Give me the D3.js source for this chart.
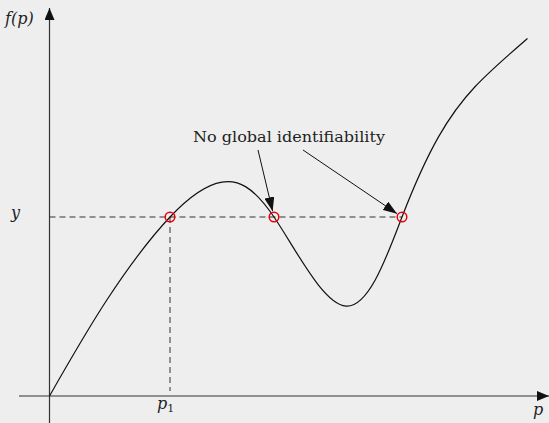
<!DOCTYPE html>
<html>
<head>
<meta charset="utf-8">
<script src="https://cdn.jsdelivr.net/npm/d3@7/dist/d3.min.js"></script>
<style>
  html, body { margin: 0; padding: 0; background: #eeeeee; }
  svg { display: block; }
</style>
</head>
<body>
<svg id="chart" width="549" height="423"></svg>
<script>
// Curve samples (p, f(p))
const pValues = [0, 1.15, 2.41, 3.45, 4.49, 5.93, 7.05, 7.78, 8.51, 9.56];
const fValues = [0, 2.15, 4.0, 4.78, 4.0, 2.01, 4.0, 5.79, 6.91, 7.99];

// Level y and the parameters where f(p) = y
const yLevel = 4;
const crossings = [2.41, 4.49, 7.05];
const annotationText = "No global identifiability";
const annotatedCrossings = [4.49, 7.05];

const FONT = "'DejaVu Serif', serif";

const svg = d3.select("#chart");
const W = 549, H = 423;

const x = d3.scaleLinear().domain([0, 10]).range([49.5, 549.5]);
const y = d3.scaleLinear().domain([0, 8]).range([396, 38]);

svg.append("rect").attr("width", W).attr("height", H).attr("fill", "#eeeeee");

const defs = svg.append("defs");
defs.append("marker")
  .attr("id", "head")
  .attr("viewBox", "0 0 14 10")
  .attr("refX", 14).attr("refY", 5)
  .attr("markerWidth", 14).attr("markerHeight", 10)
  .attr("markerUnits", "userSpaceOnUse")
  .attr("orient", "auto")
  .append("path").attr("d", "M0,0 L14,5 L0,10 Z").attr("fill", "#111");

defs.append("marker")
  .attr("id", "axisHead")
  .attr("viewBox", "0 0 12 10")
  .attr("refX", 12).attr("refY", 5)
  .attr("markerWidth", 12).attr("markerHeight", 10)
  .attr("markerUnits", "userSpaceOnUse")
  .attr("orient", "auto")
  .append("path").attr("d", "M0,0 L12,5 L0,10 Z").attr("fill", "#111");

// Axes
const x0 = x(0), y0 = y(0);
svg.append("line")
  .attr("x1", 19).attr("y1", y0).attr("x2", 549).attr("y2", y0)
  .attr("stroke", "#333").attr("stroke-width", 1.2)
  .attr("marker-end", "url(#axisHead)");
svg.append("line")
  .attr("x1", x0).attr("y1", 423).attr("x2", x0).attr("y2", 8)
  .attr("stroke", "#333").attr("stroke-width", 1.2)
  .attr("marker-end", "url(#axisHead)");

// Dashed guides
const dash = "6,4";
svg.append("line")
  .attr("x1", x0).attr("y1", y(yLevel))
  .attr("x2", x(d3.max(crossings))).attr("y2", y(yLevel))
  .attr("stroke", "#333").attr("stroke-width", 1).attr("stroke-dasharray", dash);
svg.append("line")
  .attr("x1", x(crossings[0])).attr("y1", y(yLevel))
  .attr("x2", x(crossings[0])).attr("y2", y0 - 5)
  .attr("stroke", "#333").attr("stroke-width", 1).attr("stroke-dasharray", dash);

// Curve
const pts = pValues.map((p, i) => [p, fValues[i]]);
svg.append("path")
  .datum(pts)
  .attr("fill", "none")
  .attr("stroke", "#111")
  .attr("stroke-width", 1.2)
  .attr("d", d3.line().x(d => x(d[0])).y(d => y(d[1])).curve(d3.curveNatural));

// Crossing markers
svg.selectAll("circle.cross")
  .data(crossings)
  .join("circle")
  .attr("class", "cross")
  .attr("cx", d => x(d)).attr("cy", y(yLevel)).attr("r", 4.8)
  .attr("fill", "none").attr("stroke", "#e8000b").attr("stroke-width", 1.5);

// Annotation
const tx = 193, ty = 142;
svg.append("text")
  .attr("x", tx).attr("y", ty)
  .attr("font-family", FONT).attr("fill", "#222")
  .attr("font-size", 15)
  .attr("textLength", 192)
  .attr("lengthAdjust", "spacingAndGlyphs")
  .text(annotationText);

const starts = [[258, 150], [303, 150]];
annotatedCrossings.forEach((p, i) => {
  const cx = x(p), cy = y(yLevel);
  const sx = starts[i][0], sy = starts[i][1];
  const dx = cx - sx, dy = cy - sy, len = Math.hypot(dx, dy);
  const ex = cx - dx / len * 6, ey = cy - dy / len * 6;
  svg.append("line")
    .attr("x1", sx).attr("y1", sy).attr("x2", ex).attr("y2", ey)
    .attr("stroke", "#111").attr("stroke-width", 1)
    .attr("marker-end", "url(#head)");
});

// Labels
const label = (xp, yp, size) => svg.append("text")
  .attr("x", xp).attr("y", yp).attr("font-size", size)
  .attr("font-family", FONT).attr("fill", "#222");

label(5, 24, 16).attr("font-style", "italic").text("f(p)");
label(11, y(yLevel) + 1, 16).attr("font-style", "italic").text("y");
const pl = label(x(crossings[0]) - 13, 409, 16);
pl.append("tspan").attr("font-style", "italic").text("p");
pl.append("tspan").attr("font-size", 11).attr("dy", 3).text("1");
label(533, 415, 16).attr("font-style", "italic").text("p");
</script>
</body>
</html>
